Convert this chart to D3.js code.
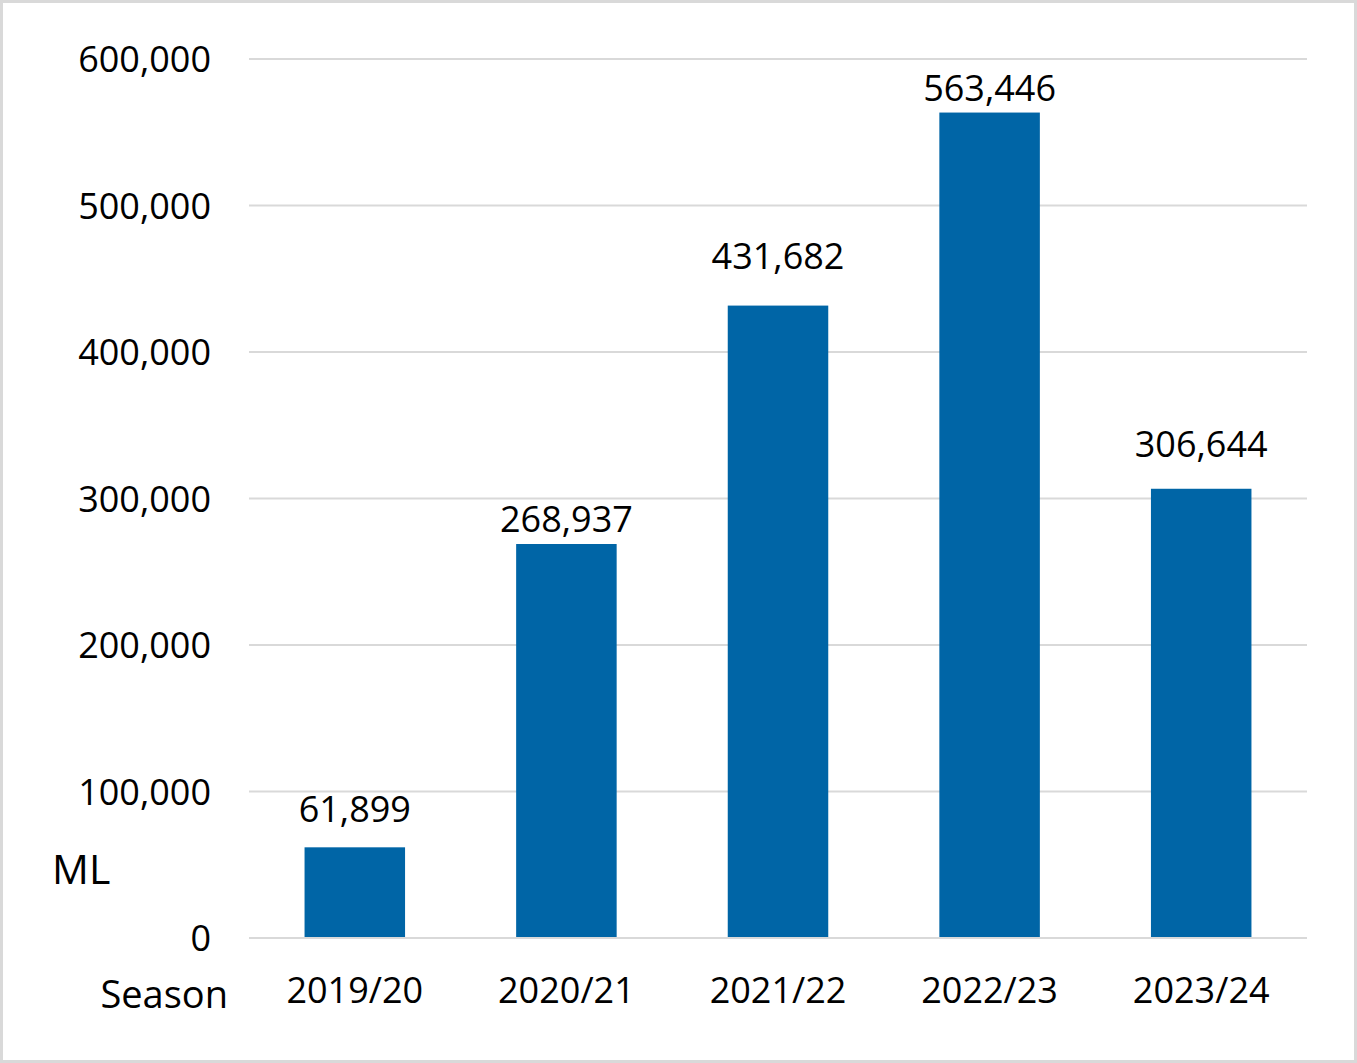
<!DOCTYPE html>
<html>
<head>
<meta charset="utf-8">
<script src="https://cdn.jsdelivr.net/npm/d3@7"></script>
<style>
  html, body { margin: 0; padding: 0; background: #fff; }
  svg { display: block; font-family: "Open Sans", sans-serif; }
</style>
</head>
<body>
<svg id="chart" width="1357" height="1063"></svg>
<script>
// chart data
var seasons = ["2019/20", "2020/21", "2021/22", "2022/23", "2023/24"];
var volumes = [61899, 268937, 431682, 563446, 306644];
var yTicks = [0, 100000, 200000, 300000, 400000, 500000, 600000];

// gap (px) between each bar top and its value label, as placed in the original
var labelGap = [25, 12, 37, 12, 32];

var svg = d3.select("#chart"),
  width = +svg.attr("width"),
  height = +svg.attr("height"),
  margin = { top: 59, right: 50, bottom: 125, left: 249 };

var fmt = d3.format(",");

// outer frame
svg.append("rect")
  .attr("x", 1.5).attr("y", 1.5)
  .attr("width", width - 3).attr("height", height - 3)
  .attr("fill", "#fff")
  .attr("stroke", "#d9d9d9")
  .attr("stroke-width", 3);

var x = d3.scaleBand()
  .domain(seasons)
  .range([margin.left, width - margin.right])
  .paddingInner(0.525)
  .paddingOuter(0.2625);

var y = d3.scaleLinear()
  .domain([0, 600000])
  .range([height - margin.bottom, margin.top]);

// gridlines
svg.append("g")
  .selectAll("line")
  .data(yTicks)
  .join("line")
  .attr("x1", margin.left)
  .attr("x2", width - margin.right)
  .attr("y1", (d) => y(d))
  .attr("y2", (d) => y(d))
  .attr("stroke", "#d9d9d9")
  .attr("stroke-width", 2);

// y axis labels
var yAxis = svg.append("g")
  .attr("transform", "translate(" + (margin.left - 38) + ",0)")
  .call(d3.axisLeft(y).tickValues(yTicks).tickFormat(fmt).tickSize(0).tickPadding(0));
yAxis.select(".domain").remove();
yAxis.selectAll("text")
  .attr("font-size", 36)
  .attr("font-family", "Open Sans, sans-serif")
  .attr("fill", "#000")
  .attr("dy", "0.36em");

// bars
svg.append("g")
  .selectAll("rect")
  .data(seasons)
  .join("rect")
  .attr("x", (d) => x(d))
  .attr("width", x.bandwidth())
  .attr("y", (d, i) => y(volumes[i]))
  .attr("height", (d, i) => y(0) - y(volumes[i]) - 1)
  .attr("fill", "#0065a6");

// value labels
svg.append("g")
  .selectAll("text")
  .data(seasons)
  .join("text")
  .attr("x", (d) => x(d) + x.bandwidth() / 2)
  .attr("y", (d, i) => y(volumes[i]) - labelGap[i])
  .attr("text-anchor", "middle")
  .attr("font-size", 36)
  .attr("fill", "#000")
  .text((d, i) => fmt(volumes[i]));

// x axis labels
var xAxis = svg.append("g")
  .attr("transform", "translate(0," + (height - margin.bottom) + ")")
  .call(d3.axisBottom(x).tickSize(0).tickPadding(0));
xAxis.select(".domain").remove();
xAxis.selectAll("text")
  .attr("font-size", 36)
  .attr("font-family", "Open Sans, sans-serif")
  .attr("fill", "#000")
  .attr("dy", null)
  .attr("y", 65);

// axis titles
svg.append("text")
  .attr("x", 52)
  .attr("y", 884)
  .attr("font-size", 41)
  .attr("fill", "#000")
  .text("ML");

svg.append("text")
  .attr("x", 228)
  .attr("y", 1008)
  .attr("text-anchor", "end")
  .attr("font-size", 38)
  .attr("fill", "#000")
  .text("Season");
</script>
</body>
</html>
